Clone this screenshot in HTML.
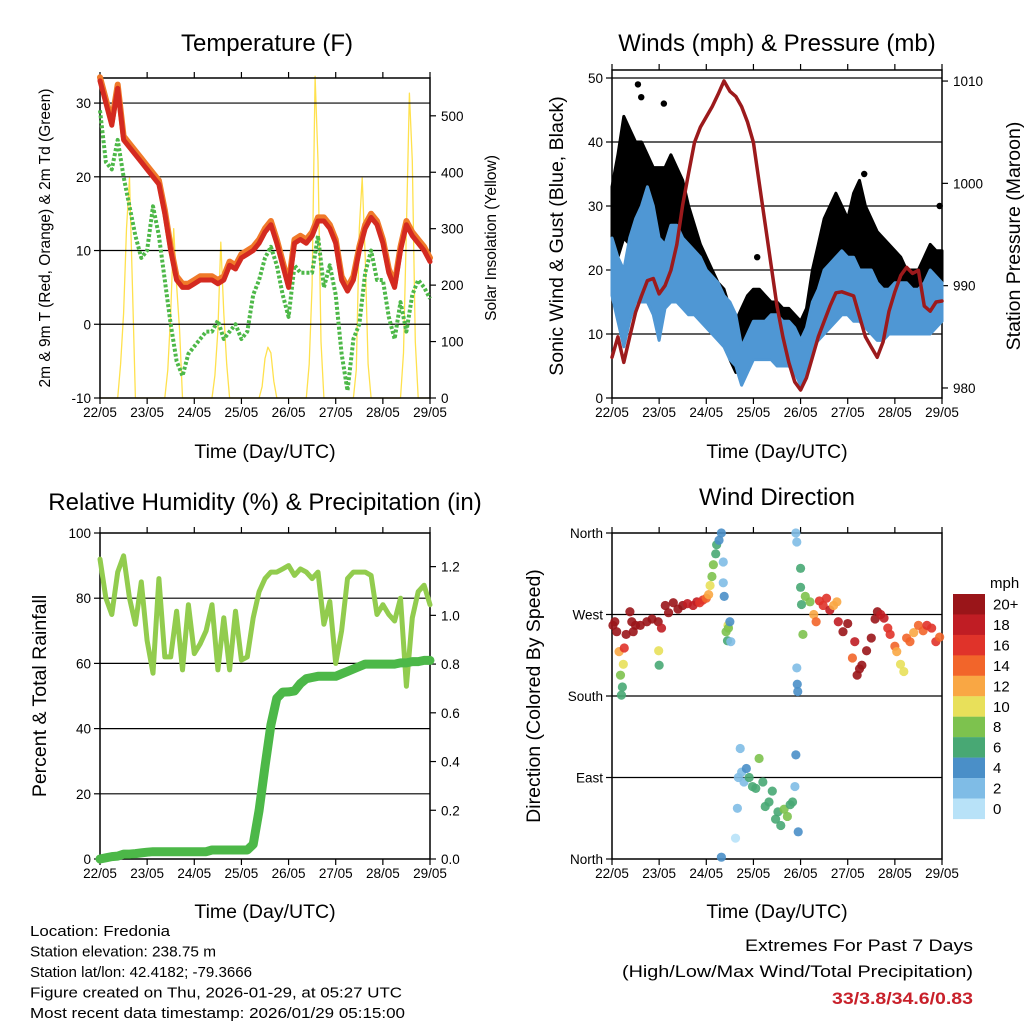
<!DOCTYPE html>
<html><head><meta charset="utf-8"><style>
html,body{margin:0;padding:0;background:#fff;}
svg{display:block;font-family:"Liberation Sans",sans-serif;}
</style></head><body>
<svg id="s" width="1024" height="1024" viewBox="0 0 1024 1024" xmlns="http://www.w3.org/2000/svg"></svg>
<script>
// ---- data (3-hourly, 57 points over 7 days) ----
const tempRed=[33,30,27,32,25,24,23,22,21,20,19,15,10,6,5,5,5.5,6,6,6,5.5,6,8,7.5,9,9.5,10,11,12.5,13.5,11,8,5,11,11.5,11,12,14,14,13,11,6,4.5,6,10,13,14.5,13.5,11,7,5,10,13.5,12,11,10,8.5];
const tempOrange=[33.5,30.5,27.5,32.5,25.5,24.5,23.5,22.5,21.5,20.5,19.5,15.5,10.5,6.5,5.5,5.5,6,6.5,6.5,6.5,6,6.5,8.5,8,9.5,10,10.5,11.5,13,14,11.5,8.5,5.5,11.5,12,11.5,12.5,14.5,14.5,13.5,11.5,6.5,5,6.5,10.5,13.5,15,14,11.5,7.5,5.5,10.5,14,12.5,11.5,10.5,9];
const dewGreen=[29,22,21,25,20,16,12,9,10,16,12,6,0,-5,-7,-4,-3,-2,-1,-1,0.5,-2,-1,0,-2,-1,4,6,9,10.5,8,4,1,8,7,7,7,12,5,8,4,-4,-9,-2,0,7,10,6,6,1,-2,3,-1,4,6,5,3.5];
const solar=[0,0,0,0,0,0,0,60,150,300,390,200,0,0,0,0,
0,0,0,0,0,0,0,50,150,300,200,120,0,0,0,0,
0,0,0,0,0,0,0,40,120,276,150,60,0,0,0,0,
0,0,0,0,0,0,0,20,70,90,80,30,0,0,0,0,
0,0,0,0,0,0,0,60,200,570,420,100,0,0,0,0,
0,0,0,0,0,0,0,50,300,390,250,60,0,0,0,0,
0,0,0,0,0,0,0,80,300,540,420,100,0,0,0,0,0];
const pressure=[983,985,982.5,985,987.4,989,990.5,990.7,989.2,990,991.5,994,997.9,1001,1004,1005.5,1006.5,1007.5,1008.7,1010,1009,1008.5,1007.5,1006,1004,1000,996,992,988,985,982.5,980.6,979.8,981,983,985,986.5,988,989.3,989.4,989.2,989,987,985,984,983,984.5,987.5,989.4,991,991.8,991.2,991.5,988,987.5,988.4,988.5];
const windLo=[16,12,8,12,15,15,15,13,9,14,15,15,14,13,13,12,11,10,9,8,6,5,2,4,6,6,6,6,5,5,5,4,2,4,8,9,10,11,12,13,13,12,12,11,10,9,9,10,10,10,10,10,10,10,10,11,12];
const windHi=[25,22,20,25,28,30,33,30,25,24,27,27,25,24,23,22,20,19,18,16,15,13,8,10,12,12,12,13,13,12,12,11,9,11,15,17,20,21,22,23,22,22,20,20,20,18,17,17,18,18,18,17,17,18,20,19,18];
const gustLo=[20,22,25,24,22,22,22,22,22,21,20,20,20,18,15,14,12,11,10,9,6,4,5,6,9,9,9,9,9,8,7,7,8,9,10,12,15,16,17,17,16,16,16,16,15,14,14,14,13,13,13,12,12,13,14,15,16];
const gustHi=[33,38,44,42,40,40,38,36,36,36,38,36,34,30,27,24,22,20,18,17,14,12,14,16,17,17,16,15,15,14,14,13,12,14,20,24,28,30,32,30,28,32,34,30,28,26,25,24,23,22,20,20,20,22,24,23,23];
const gustOutDay=[0.55,0.62,1.1,3.08,6.95,0.3,5.35];
const gustOutVal=[49,47,46,22,30,42,35];
const rh=[92,80,75,88,93,80,72,85,67,57,86,62,62,76,58,78,63,66,70,78,58,74,58,76,61,62,74,82,86,88,88,89,90,87,89,88,86,88,72,79,60,70,86,88,88,88,87,75,78,75,73,80,53,74,82,84,78];
const precip=[0,0.005,0.01,0.012,0.02,0.02,0.022,0.025,0.028,0.03,0.03,0.03,0.03,0.03,0.03,0.03,0.03,0.03,0.03,0.037,0.037,0.037,0.037,0.037,0.037,0.037,0.06,0.2,0.38,0.55,0.66,0.685,0.686,0.69,0.72,0.74,0.745,0.75,0.75,0.75,0.75,0.76,0.77,0.78,0.79,0.8,0.8,0.8,0.8,0.8,0.8,0.805,0.805,0.81,0.81,0.815,0.815];
const dirDay=[0.02,0.06,0.1,0.15,0.18,0.2,0.22,0.24,0.26,0.3,0.38,0.42,0.45,0.5,0.6,0.74,0.85,0.98,0.99,1.0,1.05,1.13,1.2,1.3,1.4,1.5,1.6,1.72,1.8,1.86,1.93,2.0,2.05,2.08,2.12,2.15,2.2,2.22,2.27,2.32,2.36,2.36,2.38,2.42,2.45,2.46,2.47,2.5,2.52,2.32,2.62,2.66,2.68,2.72,2.75,2.8,2.85,2.91,2.98,3.05,3.12,3.2,3.25,3.33,3.4,3.47,3.52,3.58,3.65,3.72,3.78,3.83,3.88,3.9,3.9,3.92,3.92,3.93,3.94,3.95,4.0,4.0,4.02,4.05,4.1,4.2,4.28,4.33,4.4,4.48,4.55,4.62,4.7,4.77,4.8,4.9,5.0,5.1,5.15,5.2,5.25,5.3,5.4,5.5,5.58,5.63,5.7,5.77,5.85,5.9,6.0,6.04,6.12,6.19,6.25,6.32,6.4,6.5,6.6,6.68,6.78,6.87,6.95];
const dirVal=[258,262,251,229,203,181,190,215,233,248,273,262,251,258,258,262,265,262,230,214,255,280,272,283,276,280,282,280,284,283,286,288,292,302,312,325,337,347,352,360,328,305,290,251,241,258,255,262,240,2,23,56,90,122,96,85,100,90,80,78,111,85,58,63,75,44,52,37,55,47,60,63,80,115,360,350,211,193,185,30,321,300,281,248,290,284,270,262,285,280,288,275,280,284,262,251,260,222,240,203,210,214,230,244,265,273,270,266,255,248,235,229,215,207,244,240,250,258,252,258,255,240,245];
const dirSpd=[22,21,20,12,9,6,7,10,17,20,20,20,20,21,20,20,21,20,10,7,18,22,22,22,21,20,19,18,18,17,16,14,12,10,9,8,7,7,5,4,3,3,4,8,7,10,9,4,2,5,1,2,2,2,2,3,4,6,7,6,8,6,6,7,6,6,7,7,8,8,7,7,3,4,2,2,2,4,4,4,7,6,6,9,8,8,12,15,16,17,17,18,12,12,18,21,20,15,18,21,20,20,22,20,20,20,19,18,17,16,14,12,11,10,14,14,13,14,15,17,16,16,15];
const xTicks=["22/05","23/05","24/05","25/05","26/05","27/05","28/05","29/05"];
const spdLabels=["20+","18","16","14","12","10","8","6","4","2","0"];
const spdColors=["#9a1519","#c01d24","#e0332a","#f2652a","#f9a744","#e8e05a","#7dc24e","#48a874","#4a8fc8","#7fbce6","#b8e2f8"];

const S=document.getElementById('s');const NS='http://www.w3.org/2000/svg';
function el(t,a,p){const e=document.createElementNS(NS,t);for(const k in a)e.setAttribute(k,a[k]);(p||S).appendChild(e);return e;}
function txt(x,y,s,size,anchor,extra,p){const e=el('text',Object.assign({x:x,y:y,'font-size':size,'text-anchor':anchor||'middle',fill:'#000'},extra||{}),p);e.textContent=s;return e;}
function lin(d0,d1,r0,r1){return v=>r0+(v-d0)/(d1-d0)*(r1-r0);}
function frame(P,name){
  const g=el('g',{});
  
  
  P.g=g;P.xs=lin(0,7,P.x0,P.x1);P.yl=lin(P.l0,P.l1,P.y1,P.y0);
  if(P.r0!==undefined)P.yr=lin(P.r0,P.r1,P.y1,P.y0);
  return g;
}
function axes(P,leftTicks,leftFmt,rightTicks,rightFmt,grid){
  const g=P.g;
  grid.forEach(v=>{const l=el('line',{x1:P.x0,x2:P.x1,y1:P.yl(v),y2:P.yl(v),stroke:'#000','stroke-width':1.2},g);});
  const b=el('rect',{x:P.x0,y:P.y0,width:P.x1-P.x0,height:P.y1-P.y0,fill:'none',stroke:'#000','stroke-width':1.5},g);
  
  xTicks.forEach((s,i)=>{const x=P.xs(i);
    el('line',{x1:x,x2:x,y1:P.y1,y2:P.y1+6,stroke:'#000','stroke-width':1.2},g);
    el('line',{x1:x,x2:x,y1:P.y0,y2:P.y0-6,stroke:'#000','stroke-width':1.2},g);
    const t=txt(x,P.y1+19,s,13.5,'middle',{},g);});
  leftTicks.forEach(v=>{const y=P.yl(v);
    el('line',{x1:P.x0-6,x2:P.x0,y1:y,y2:y,stroke:'#000','stroke-width':1.2},g);
    const t=txt(P.x0-9,y+5,leftFmt(v),13.5,'end',{},g);});
  if(rightTicks){rightTicks.forEach(v=>{const y=P.yr(v);
    el('line',{x1:P.x1,x2:P.x1+6,y1:y,y2:y,stroke:'#000','stroke-width':1.2},g);
    const t=txt(P.x1+11,y+5,rightFmt(v),13.5,'start',{},g);});}
}
function poly(P,vals,ys,attrs,name,step){
  const st=step||(7/(vals.length-1));
  const pts=vals.map((v,i)=>P.xs(i*st).toFixed(1)+','+ys(v).toFixed(1)).join(' ');
  const e=el('polyline',Object.assign({points:pts,fill:'none','stroke-linejoin':'round','stroke-linecap':'round'},attrs),P.g);
  return e;
}
function band(P,lo,hi,ys,fill,name){
  const st=7/(lo.length-1);
  let pts=hi.map((v,i)=>P.xs(i*st).toFixed(1)+','+ys(v).toFixed(1));
  pts=pts.concat(lo.map((v,i)=>P.xs(i*st).toFixed(1)+','+ys(v).toFixed(1)).reverse());
  const e=el('polygon',{points:pts.join(' '),fill:fill,stroke:fill,'stroke-width':3,'stroke-linejoin':'round'},P.g);
  return e;
}

// ---- Panel 1: Temperature ----
const P1={x0:100,x1:430,y0:78,y1:398,l0:-10,l1:33.4,r0:0,r1:567};
frame(P1,'temperature-panel');
poly(P1,solar,P1.yr,{stroke:'#ffe14d','stroke-width':1.3},'solar-insolation-line',7/(solar.length-1));
axes(P1,[-10,0,10,20,30],v=>String(v),[0,100,200,300,400,500],v=>String(v),[0,10,20,30]);
poly(P1,dewGreen,P1.yl,{stroke:'#4db848','stroke-width':4,'stroke-dasharray':'3 2','stroke-linecap':'butt'},'dewpoint-line');
poly(P1,tempOrange,P1.yl,{stroke:'#f07a2a','stroke-width':6},'temp-9m-line');
poly(P1,tempRed,P1.yl,{stroke:'#d42a20','stroke-width':5},'temp-2m-line');
txt(267,51,'Temperature (F)',24,'middle',{});
txt(0,0,'2m & 9m T (Red, Orange) & 2m Td (Green)',15.5,'middle',{transform:'translate(50,238) rotate(-90)',});
txt(0,0,'Solar Insolation (Yellow)',15.5,'middle',{transform:'translate(496,238) rotate(-90)',});
txt(265,458,'Time (Day/UTC)',19.5,'middle',{});

// ---- Panel 2: Winds ----
const P2={x0:612,x1:942,y0:70,y1:398,l0:0,l1:51.25,r0:979.02,r1:1011.08};
frame(P2,'winds-panel');
axes(P2,[0,10,20,30,40,50],v=>String(v),[980,990,1000,1010],v=>String(v),[10,20,30,40,50]);
band(P2,gustLo,gustHi,P2.yl,'#000','gust-band');
gustOutDay.forEach((d,i)=>{const c=el('circle',{cx:P2.xs(d),cy:P2.yl(gustOutVal[i]),r:3.2,fill:'#000'},P2.g);
  
  });
band(P2,windLo,windHi,P2.yl,'#4f97d4','sonic-wind-band');
poly(P2,pressure,P2.yr,{stroke:'#9c1a1c','stroke-width':3.5},'pressure-line');
txt(777,51,'Winds (mph) & Pressure (mb)',24,'middle',{});
txt(0,0,'Sonic Wind & Gust (Blue, Black)',19.5,'middle',{transform:'translate(563,236) rotate(-90)',});
txt(0,0,'Station Pressure (Maroon)',19.5,'middle',{transform:'translate(1020,236) rotate(-90)',});
txt(777,458,'Time (Day/UTC)',19.5,'middle',{});

// ---- Panel 3: RH & Precip ----
const P3={x0:100,x1:430,y0:533,y1:859,l0:0,l1:100,r0:0,r1:1.338};
frame(P3,'humidity-panel');
axes(P3,[0,20,40,60,80,100],v=>String(v),[0,0.2,0.4,0.6,0.8,1.0,1.2],v=>v.toFixed(1),[20,40,60,80]);
poly(P3,rh,P3.yl,{stroke:'#92cc4e','stroke-width':5},'humidity-line');
poly(P3,precip,P3.yr,{stroke:'#4cb848','stroke-width':9},'precipitation-line');
txt(265,510,'Relative Humidity (%) & Precipitation (in)',24,'middle',{});
txt(0,0,'Percent & Total Rainfall',19.5,'middle',{transform:'translate(46,696) rotate(-90)',});
txt(265,918,'Time (Day/UTC)',19.5,'middle',{});

// ---- Panel 4: Wind direction ----
const P4={x0:612,x1:942,y0:533,y1:859,l0:0,l1:360};
frame(P4,'wind-direction-panel');
const dirNames=['North','East','South','West','North'];
axes(P4,[0,90,180,270,360],v=>dirNames[v/90],null,null,[90,180,270]);
function spdColor(s){const b=Math.min(10,Math.max(0,Math.floor(s/2)));return spdColors[10-b];}
dirDay.forEach((d,i)=>{const c=el('circle',{cx:P4.xs(d),cy:P4.yl(dirVal[i]),r:4.6,fill:spdColor(dirSpd[i]),'fill-opacity':0.9},P4.g);
  
  });
txt(777,505,'Wind Direction',24,'middle',{});
txt(0,0,'Direction (Colored By Speed)',19.5,'middle',{transform:'translate(540,696) rotate(-90)',});
txt(777,918,'Time (Day/UTC)',19.5,'middle',{});
// colorbar
const cb=el('g',{});
spdLabels.forEach((s,i)=>{const y=594+i*20.45;
  el('rect',{x:953,y:y,width:32,height:20.6,fill:spdColors[i]},cb);
  txt(993,y+15.5,s,15,'start',{},cb);});
txt(990,588,'mph',15,'start',{},cb);

// ---- footer text ----
const info=['Location: Fredonia','Station elevation: 238.75 m','Station lat/lon: 42.4182; -79.3666','Figure created on Thu, 2026-01-29, at 05:27 UTC','Most recent data timestamp: 2026/01/29 05:15:00'];
const infoW=[140,186,222,372,375];
info.forEach((s,i)=>{const t=txt(30,936+i*20.5,s,15,'start',{textLength:infoW[i],lengthAdjust:'spacingAndGlyphs'});
  
  });
txt(973,951,'Extremes For Past 7 Days',17,'end',{textLength:228,lengthAdjust:'spacingAndGlyphs',});
txt(973,977,'(High/Low/Max Wind/Total Precipitation)',17,'end',{textLength:351,lengthAdjust:'spacingAndGlyphs',});
txt(973,1004,'33/3.8/34.6/0.83',17,'end',{fill:'#c8202a','font-weight':'bold',textLength:141,lengthAdjust:'spacingAndGlyphs',});
</script>
</body></html>
